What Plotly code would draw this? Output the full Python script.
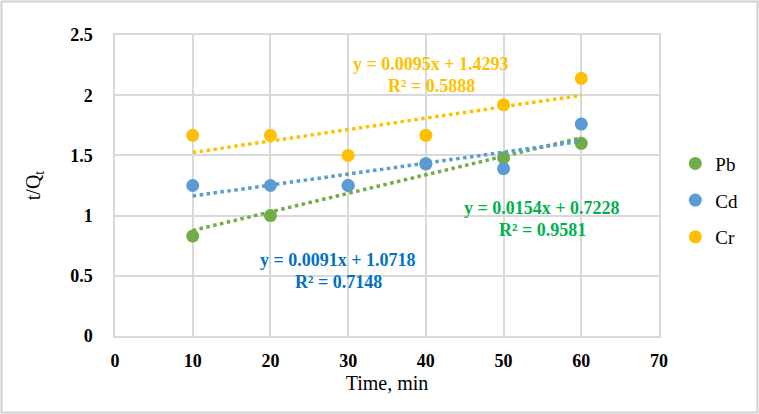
import plotly.graph_objects as go
import numpy as np

time_min = [10, 20, 30, 40, 50, 60]
series_names = ["Pb", "Cd", "Cr"]
pb_vals = [0.83, 1.00, 1.25, 1.43, 1.48, 1.60]
cd_vals = [1.25, 1.25, 1.25, 1.43, 1.39, 1.76]
cr_vals = [1.667, 1.667, 1.50, 1.667, 1.92, 2.14]
slopes = [0.0154, 0.0091, 0.0095]
intercepts = [0.7228, 1.0718, 1.4293]
r_squared = ["0.9581", "0.7148", "0.5888"]
marker_colors = ["#70AD47", "#5B9BD5", "#FFC000"]
eq_colors = ["#00B050", "#0070C0", "#FFC000"]
x_ticks = [0, 10, 20, 30, 40, 50, 60, 70]
y_ticks = [0, 0.5, 1, 1.5, 2, 2.5]

W, H = 759, 414
ML, MR, MT, MB = 115, 100, 35, 78
FONT = "Liberation Serif, Times New Roman, serif"

fig = go.Figure()
values = [pb_vals, cd_vals, cr_vals]
xs = np.array(time_min, dtype=float)
for i, name in enumerate(series_names):
    fig.add_trace(go.Scatter(
        x=xs, y=values[i], mode="markers", name=name, legendgroup=name,
        marker=dict(size=13, color=marker_colors[i]),
    ))
for i, name in enumerate(series_names):
    fig.add_trace(go.Scatter(
        x=xs, y=slopes[i] * xs + intercepts[i], mode="lines", showlegend=False,
        line=dict(color=marker_colors[i], width=3.5, dash="dot"),
    ))

# equation label positions in pixels (center of first line)
eq_pos = [(542, 208), (338, 260), (431, 64)]
pw = W - ML - MR
ph = H - MT - MB
for i in range(3):
    px, py = eq_pos[i]
    xd = (px - ML) / pw * 70
    for j, txt in enumerate([f"y = {slopes[i]:.4f}x + {intercepts[i]:.4f}", f"R² = {r_squared[i]}"]):
        yy = py + j * 22
        yd = (H - MB - yy) / ph * 2.5
        fig.add_annotation(x=xd, y=yd, xref="x", yref="y", text=f"<b>{txt}</b>", showarrow=False,
                           font=dict(family=FONT, size=18, color=eq_colors[i]),
                           xanchor="center", yanchor="middle")

# outer border
fig.add_shape(type="rect", xref="paper", yref="paper",
              x0=(-ML + 1.5) / pw, x1=1 + (MR - 1.5) / pw,
              y0=(-MB + 1.5) / ph, y1=1 + (MT - 1.5) / ph,
              line=dict(color="#d0d0d0", width=2), layer="below")

fig.update_layout(
    width=W, height=H,
    margin=dict(l=ML, r=MR, t=MT, b=MB),
    paper_bgcolor="white", plot_bgcolor="white",
    font=dict(family=FONT, color="black"),
    legend=dict(x=1.03, y=0.45, xanchor="left", yanchor="middle",
                font=dict(family=FONT, size=19), tracegroupgap=9,
                itemwidth=30),
    xaxis=dict(range=[0, 70], tickvals=x_ticks, showgrid=True, gridcolor="#d9d9d9",
               gridwidth=1.5, showline=True, linecolor="#d9d9d9", linewidth=1.5, mirror=True,
               zeroline=False, ticks="", tickfont=dict(family=FONT, size=18, weight="bold"),
               ticklabelstandoff=8,
               title=dict(text="Time, min", font=dict(family=FONT, size=20), standoff=6)),
    yaxis=dict(range=[0, 2.5], tickvals=y_ticks, showgrid=True, gridcolor="#d9d9d9",
               gridwidth=1.5, showline=True, linecolor="#d9d9d9", linewidth=1.5, mirror=True,
               zeroline=False, ticks="", tickfont=dict(family=FONT, size=18, weight="bold"),
               ticklabelstandoff=17,
               title=dict(text="t/Q<sub>t</sub>", font=dict(family=FONT, size=20), standoff=24)),
)

fig.write_html("out.html")
